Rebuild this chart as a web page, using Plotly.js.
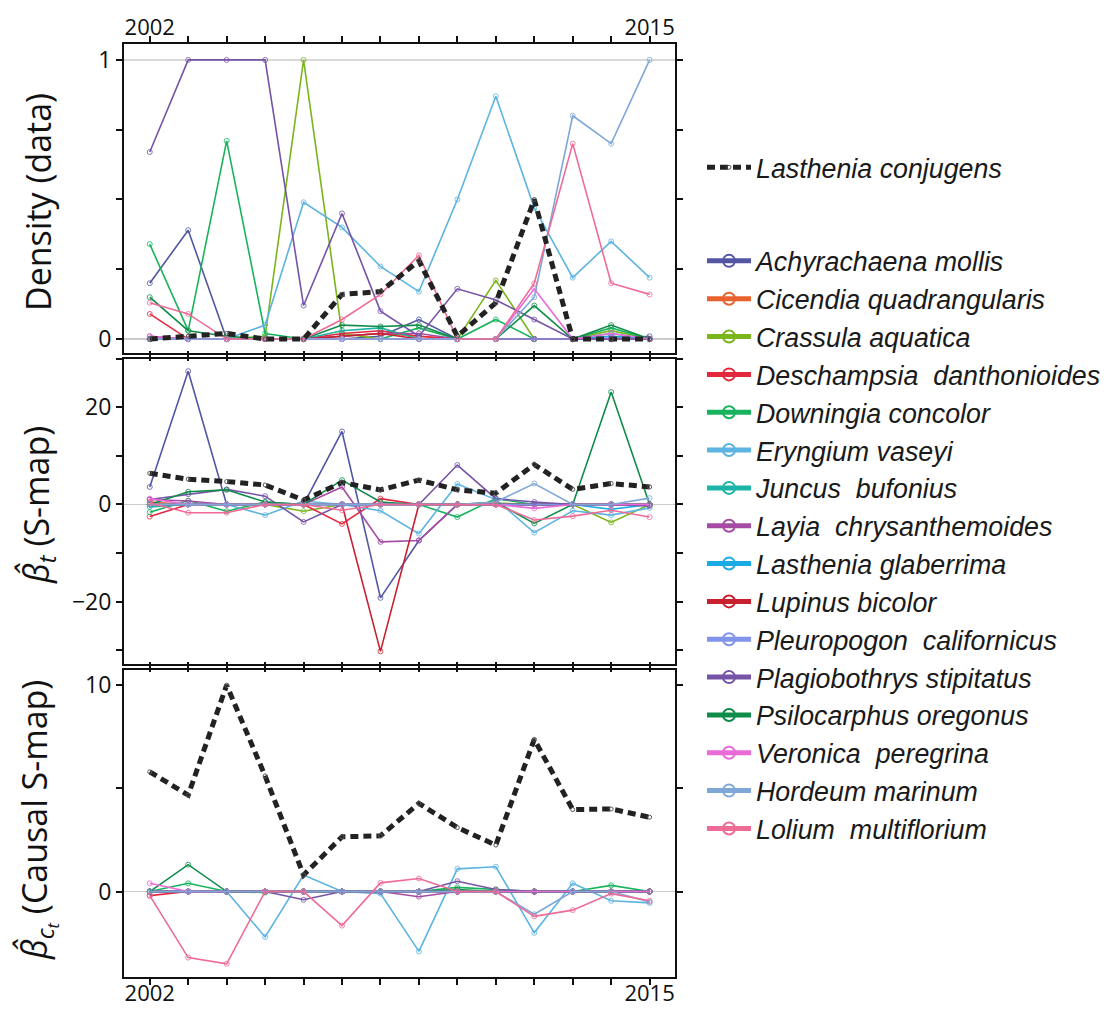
<!DOCTYPE html>
<html>
<head>
<meta charset="utf-8">
<script src="https://cdn.plot.ly/plotly-3.0.1.min.js"></script>
<style>html,body{margin:0;padding:0;background:#fff;}#chart{width:1119px;height:1009px;}</style>
</head>
<body>
<div id="chart"></div>
<script>
// ---------- DATA ----------
const years = [2002,2003,2004,2005,2006,2007,2008,2009,2010,2011,2012,2013,2014,2015];
const yearTickText = ['2002','','','','','','','','','','','','','2015'];

const focalName = 'Lasthenia conjugens';

const species = [
  'Achyrachaena mollis',
  'Cicendia quadrangularis',
  'Crassula aquatica',
  'Deschampsia\u00a0 danthonioides',
  'Downingia concolor',
  'Eryngium vaseyi',
  'Juncus\u00a0 bufonius',
  'Layia\u00a0 chrysanthemoides',
  'Lasthenia glaberrima',
  'Lupinus bicolor',
  'Pleuropogon\u00a0 californicus',
  'Plagiobothrys stipitatus',
  'Psilocarphus oregonus',
  'Veronica\u00a0 peregrina',
  'Hordeum marinum',
  'Lolium\u00a0 multiflorium'
];

const speciesColors = [
  '#5256a3','#e9622d','#7bb51c','#e3283d','#18b35d','#5db4e1','#1cb4a6','#a54ba3',
  '#1aaae4','#c8202f','#8194ea','#7553a7','#0f8c4a','#ea6ad8','#7fa7d7','#ee6b96'
];

// Density (data), one row per species, years 2002..2015
const densityRows = [
  [0.20,0.39,0,0,0,0,0.01,0.07,0,0,0,0,0,0.01],
  [0,0,0,0,0,0.01,0.02,0.01,0,0,0,0,0,0],
  [0,0,0,0.01,1.0,0.02,0,0,0,0.21,0,0,0.03,0],
  [0.09,0,0,0,0,0.02,0.03,0.01,0,0,0,0,0,0],
  [0.34,0.03,0.71,0.02,0,0,0,0.04,0,0.07,0,0,0.04,0],
  [0,0,0,0.05,0.49,0.40,0.26,0.17,0.50,0.87,0.47,0.22,0.35,0.22],
  [0,0,0,0,0,0.03,0.04,0,0,0,0,0,0.02,0],
  [0.01,0,0,0,0,0.01,0.02,0.02,0,0,0,0,0.01,0],
  [0,0,0,0,0,0,0,0,0,0,0,0,0.01,0],
  [0,0,0,0,0,0.01,0.02,0,0,0,0,0,0,0],
  [0,0,0,0,0,0,0,0,0,0,0,0,0,0],
  [0.67,1.0,1.0,1.0,0.12,0.45,0.10,0.01,0.18,0.14,0.07,0,0,0],
  [0.15,0.03,0.01,0,0,0.05,0.045,0.05,0,0,0.12,0,0.05,0],
  [0.01,0,0,0,0,0,0,0,0,0,0.18,0,0.02,0],
  [0,0,0,0,0,0,0,0,0,0,0.15,0.80,0.70,1.0],
  [0.13,0.09,0,0,0,0.07,0.16,0.30,0,0,0.20,0.70,0.20,0.16]
];
const focalDensity = [0,0.01,0.02,0,0,0.16,0.17,0.28,0.01,0.13,0.50,0,0,0];

// S-map coefficients
const smapRows = [
  [3.6,27.4,0,0,0,15.0,-19.2,-7.4,0,0,0,0,0,0],
  [0.5,0,0,0,0,0,0,0,0,0,0,0,0,0],
  [0,0,0,0,-1.4,0,0,0,0,0.3,0,0,-3.7,0],
  [-2.5,0,0,0,0,-4.0,1.2,0,0,0,0,0,0,0],
  [-1.6,0.8,-1.4,0.5,0,0,0,0,-2.6,1.2,0,0,0,0],
  [0,0,0,-2.2,0.7,0,-1.3,-6.0,4.2,1.0,-5.8,-1.3,-2.2,-0.7],
  [-0.5,0,0,0,0,0,0,0,0,0,0,0,0,0],
  [1.0,0.7,0,0,0,3.6,-7.7,-7.4,0,0,0,0,0,0],
  [0,0,0,0,0,0,0,0,0,0,0,0,-1.0,0],
  [0,0,0,0,0,0,-30.2,0,0,0,0,0,0,0],
  [0,0,0,0,0,0,0,0,0,0,0,0,0,0],
  [1.0,2.1,3.1,1.7,-3.6,0,0,0,8.1,1.2,0.5,0,0,-0.3],
  [0,2.6,3.0,0.5,0,5.0,0.5,0,0,0.5,-3.9,0,23.1,0],
  [1.2,0,0,0,0,0,0,0,0,0,-0.8,0,0,0],
  [0,0,0,0,0,0,0,0,0,0.5,4.3,0,0,1.3],
  [0.3,-1.7,-1.7,0,0,-1.2,0,0,0,0,-3.2,-2.4,-1.2,-2.6]
];
const focalSmap = [6.4,5.2,4.7,4.0,0.9,4.5,3.0,5.0,3.0,2.3,8.2,3.1,4.3,3.6];

// Causal S-map coefficients
const causalRows = [
  [0,0,0,0,0,0,0,0,0,0,0,0,0,0],
  [0,0,0,0,0,0,0,0,0,0,0,0,0,0],
  [0,0,0,0,0,0,0,0,0,0,0,0,0,0],
  [-0.2,0,0,0,0,0,0,0,0,0,0,0,0,0],
  [0,0.4,0,-0.05,0,0,0,0,0.2,0.1,0,0,0.3,0],
  [0,0,0,-2.2,0.8,0,-0.1,-2.9,1.1,1.2,-2.0,0.4,-0.45,-0.55],
  [0,0,0,0,0,0,0,0,0,0,0,0,0,0],
  [0,0,0,0,0,0,0,-0.25,0,0,0,0,0,0],
  [0,0,0,0,0,0,0,0,0,0,0,0,0,0],
  [0,0,0,0,0,0,0,0,0,0,0,0,0,0],
  [0,0,0,0,0,0,0,0,0,0,0,0,0,0],
  [0,0,0,0,-0.4,0,0,0,0.5,0.1,0,0,0,0],
  [0,1.3,0,0,0,0,0,0,0.1,0,0,0,0,0],
  [0.4,0,0,0,0,0,0,0,0,0,0,0,0,0],
  [0,0,0,0,0,0,0,0,0,0,-1.1,0,0,-0.5],
  [-0.2,-3.2,-3.5,0,0,-1.65,0.42,0.63,0,0,-1.2,-0.9,-0.1,-0.45]
];
const focalCausal = [5.8,4.67,10.0,5.6,0.8,2.65,2.7,4.27,3.1,2.25,7.37,3.97,4.0,3.6];

// ---------- TRACES ----------
const panels = [
  {rows: densityRows, focal: focalDensity, xa: 'x',  ya: 'y'},
  {rows: smapRows,    focal: focalSmap,    xa: 'x2', ya: 'y2'},
  {rows: causalRows,  focal: focalCausal,  xa: 'x3', ya: 'y3'}
];

const traces = [];
panels.forEach((p, pi) => {
  species.forEach((name, i) => {
    traces.push({
      type: 'scatter', mode: 'lines+markers',
      x: years, y: p.rows[i], xaxis: p.xa, yaxis: p.ya,
      name: name, legend: 'legend2', legendgroup: name, showlegend: pi === 0,
      line: {color: speciesColors[i], width: 1.6},
      marker: {symbol: 'circle-open', size: 5, color: speciesColors[i], line: {width: 0.8}},
      hoverinfo: 'skip'
    });
  });
  traces.push({
    type: 'scatter', mode: 'lines+markers',
    x: years, y: p.focal, xaxis: p.xa, yaxis: p.ya,
    name: focalName, legend: 'legend', legendgroup: 'focal', showlegend: pi === 0,
    line: {color: '#222222', width: 5, dash: '8px,5px'},
    marker: {symbol: 'circle-open', size: 4, color: '#555555', line: {width: 1}},
    hoverinfo: 'skip'
  });
});

// ---------- LAYOUT ----------
const tickFont = {family: 'Open Sans, DejaVu Sans, sans-serif', size: 23, color: '#111'};
const xTickFont = {family: 'Open Sans, DejaVu Sans, sans-serif', size: 22, color: '#111'};
const xRange = [2001.33, 2015.66];
function xAxis(anchor, showLabels, side, standoff) {
  return {
    anchor: anchor, range: xRange, side: side,
    tickmode: 'array', tickvals: years, ticktext: yearTickText,
    showticklabels: showLabels, ticks: 'outside', ticklen: 6, tickwidth: 2, tickcolor: '#111',
    ticklabelstandoff: standoff,
    showline: true, linecolor: '#111', linewidth: 2, mirror: 'ticks',
    showgrid: false, zeroline: false, tickfont: xTickFont, fixedrange: true
  };
}
function yAxis(anchor, domain, range, vals, text) {
  return {
    anchor: anchor, domain: domain, range: range,
    tickmode: 'array', tickvals: vals, ticktext: text,
    ticks: 'outside', ticklen: 6, tickwidth: 2, tickcolor: '#111',
    showline: true, linecolor: '#111', linewidth: 2, mirror: 'ticks',
    showgrid: false, zeroline: true, zerolinecolor: '#cccccc', zerolinewidth: 1.5,
    tickfont: tickFont, fixedrange: true
  };
}

const titleFont = {family: 'Open Sans, DejaVu Sans, sans-serif', size: 34, color: '#111'};
const legendFont = {family: 'Liberation Sans, Arial, sans-serif', size: 26.8, color: '#1a1a1a', style: 'italic'};

const layout = {
  width: 1119, height: 1009,
  margin: {l: 124, r: 444, t: 44, b: 32},
  paper_bgcolor: '#ffffff', plot_bgcolor: '#ffffff',
  showlegend: true,
  xaxis: xAxis('y', true, 'top', -8),
  xaxis2: xAxis('y2', false, 'bottom', 0),
  xaxis3: xAxis('y3', true, 'bottom', -10),
  yaxis: yAxis('x', [0.6688, 1], [-0.05, 1.057], [0, 0.25, 0.5, 0.75, 1], ['0', '', '', '', '1']),
  yaxis2: yAxis('x2', [0.3355, 0.6629], [-32.8, 30], [-30, -20, -10, 0, 10, 20, 30], ['', '\u221220', '', '0', '', '20', '']),
  yaxis3: yAxis('x3', [0, 0.329], [-4.14, 10.73], [0, 5, 10], ['0', '', '10']),
  legend: {
    x: 1.049, xanchor: 'left', y: 0.8935, yanchor: 'top',
    font: legendFont, bgcolor: 'rgba(0,0,0,0)', borderwidth: 0,
    itemwidth: 44, itemsizing: 'trace'
  },
  legend2: {
    x: 1.049, xanchor: 'left', y: 0.7932, yanchor: 'top',
    font: legendFont, bgcolor: 'rgba(0,0,0,0)', borderwidth: 0,
    itemwidth: 44, itemsizing: 'constant', traceorder: 'normal'
  },
  shapes: [
    {type: 'line', xref: 'x domain', yref: 'y', x0: 0, x1: 1, y0: 1, y1: 1,
     line: {color: '#cccccc', width: 1.5}, layer: 'below'}
  ],
  annotations: [
    {text: 'Density (data)', xref: 'paper', yref: 'paper', x: -0.156, y: 0.8307,
     xanchor: 'center', yanchor: 'middle', textangle: -90, showarrow: false, font: titleFont},
    {text: '<i>\u03b2\u0302</i><sub><i>t</i></sub> (S-map)', xref: 'paper', yref: 'paper', x: -0.156, y: 0.5059,
     xanchor: 'center', yanchor: 'middle', textangle: -90, showarrow: false, font: titleFont},
    {text: '<i>\u03b2\u0302</i><sub><i>c</i><sub><i>t</i></sub></sub> (Causal S-map)', xref: 'paper', yref: 'paper', x: -0.156, y: 0.1683,
     xanchor: 'center', yanchor: 'middle', textangle: -90, showarrow: false, font: titleFont}
  ]
};

Plotly.newPlot('chart', traces, layout, {staticPlot: true, displayModeBar: false});
</script>
</body>
</html>
